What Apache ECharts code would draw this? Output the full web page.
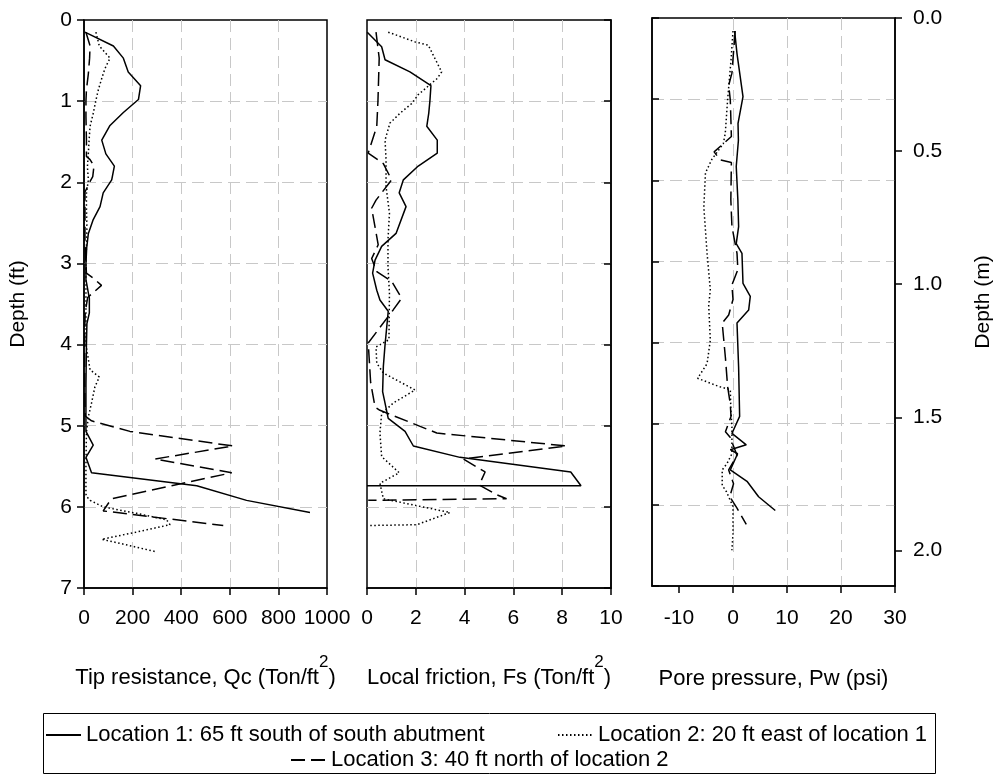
<!DOCTYPE html>
<html>
<head>
    <meta charset="utf-8">
    <title>CPT profiles</title>
    <script type="text/javascript" src="https://cdn.jsdelivr.net/npm/echarts@6/dist/echarts.min.js"></script>
    <style>html,body{margin:0;padding:0;background:#fff;}</style>
</head>
<body>
<div id="container" style="width:994px;height:775px"></div>
<script type="text/javascript">
    var names = ['Location 1: 65 ft south of south abutment',
                 'Location 2: 20 ft east of location 1',
                 'Location 3: 40 ft north of location 2'];

    // tip resistance Qc (Ton/ft2) vs depth (ft)
    var qcDepth1 = [0.15,0.32,0.47,0.64,0.81,0.98,1.14,1.30,1.48,1.65,1.80,1.97,2.13,2.30,2.46,2.63,2.81,3.0,3.2,3.43,3.61,3.74,4.0,4.5,4.85,5.07,5.24,5.39,5.58,5.74,5.92,6.07];
    var qcVal1   = [4,121,162,182,233,224,162,107,73,90,125,114,79,66,38,18,11,8,8,22,22,12,10,8,8,8,38,8,31,464,669,930];
    var qcDepth2 = [0.15,0.32,0.47,0.60,0.72,0.86,0.99,1.15,1.31,1.48,1.64,1.81,1.97,2.14,2.30,2.55,2.80,3.04,3.5,4.0,4.31,4.40,4.52,4.72,4.89,5.08,5.5,5.84,5.87,5.92,6.0,6.08,6.16,6.22,6.31,6.40,6.45,6.55];
    var qcVal2   = [49,63,107,86,73,59,49,38,25,21,18,14,18,10,10,12,10,8,8,8,25,63,45,31,18,10,8,8,10,25,79,217,340,354,217,73,148,292];
    var qcDepth3 = [0.15,0.32,0.47,0.66,0.86,1.0,1.19,1.48,1.68,1.72,1.80,1.93,1.99,2.12,2.3,2.75,3.0,3.12,3.18,3.27,3.42,3.6,3.8,4.5,4.88,4.94,5.07,5.25,5.41,5.58,5.90,6.05,6.23];
    var qcVal3   = [8,25,23,18,10,8,8,10,10,25,41,36,25,4,4,4,8,10,38,72,15,5,3,3,5,31,189,614,292,608,113,79,573];

    // local friction Fs (Ton/ft2) vs depth (ft)
    var fsDepth1 = [0.15,0.33,0.49,0.64,0.81,0.99,1.15,1.31,1.48,1.64,1.80,1.97,2.13,2.30,2.63,2.79,2.96,3.12,3.33,3.45,3.59,4.0,4.27,4.58,4.91,5.07,5.25,5.39,5.57,5.74,5.74];
    var fsVal1   = [0.01,0.60,0.74,1.76,2.62,2.58,2.53,2.45,2.88,2.88,2.10,1.49,1.32,1.60,1.19,0.60,0.33,0.23,0.40,0.53,0.87,0.74,0.67,0.64,0.87,1.56,1.90,3.81,8.35,8.77,0.0];
    var fsDepth2 = [0.15,0.27,0.31,0.64,0.72,0.92,1.03,1.15,1.27,1.48,1.72,2.05,2.38,2.71,3.04,3.36,3.94,4.03,4.23,4.35,4.56,4.72,4.85,5.09,5.38,5.58,5.71,5.90,6.07,6.22,6.23];
    var fsVal2   = [0.87,1.97,2.51,3.06,2.88,2.10,1.83,1.35,0.94,0.74,0.78,0.78,0.92,0.86,0.86,0.92,0.90,0.37,0.40,0.67,1.97,1.08,0.60,0.53,0.60,1.32,0.53,0.67,3.40,2.04,0.05];
    var fsDepth3 = [0.15,0.47,0.99,1.31,1.64,1.77,1.97,2.22,2.32,2.77,2.94,3.10,3.22,3.43,3.57,3.98,4.47,4.77,4.81,5.09,5.25,5.41,5.57,5.73,5.85,5.90,5.92];
    var fsVal3   = [0.37,0.50,0.45,0.40,0.05,0.67,1.01,0.37,0.19,0.46,0.19,0.40,1.01,1.42,1.08,0.05,0.15,0.33,0.53,2.86,8.18,3.95,4.84,4.60,5.31,5.72,0.05];

    // pore pressure Pw (psi) vs depth (ft)
    var pwDepth1 = [0.16,0.44,0.97,1.30,1.51,1.83,2.24,2.57,2.78,2.90,3.27,3.43,3.60,3.76,4.30,4.91,5.12,5.26,5.32,5.37,5.57,5.71,5.90,6.07];
    var pwVal1   = [0.3,0.74,1.85,0.93,1.0,0.6,0.9,1.04,0.6,1.66,1.85,3.2,2.9,0.74,1.04,1.23,-0.2,2.46,-0.5,0.85,-0.5,2.59,4.74,7.83];
    var pwDepth2 = [0.16,0.52,1.01,1.42,1.55,1.74,1.91,2.33,2.90,3.35,3.54,3.97,4.26,4.44,4.54,4.58,4.83,5.04,5.37,5.49,5.57,5.76,5.84,6.02,6.35,6.56];
    var pwVal2   = [0,-0.37,-1.0,-1.43,-1.8,-3.9,-5.1,-5.4,-4.8,-4.2,-4.5,-4.2,-4.8,-6.55,-2.67,-0.5,-0.4,-0.2,-0.2,-1.1,-2.0,-2.0,-1.2,0,0,-0.2];
    var pwDepth3 = [0.16,0.68,0.83,1.01,1.30,1.46,1.65,1.75,1.78,2.24,2.57,2.78,2.90,3.10,3.29,3.47,3.66,3.76,4.19,4.54,4.76,4.91,5.10,5.17,5.39,5.57,5.74,5.90,6.04,6.24];
    var pwVal3   = [0.4,-0.2,-0.8,-0.5,-0.37,-0.3,-3.5,-2.35,-0.3,-0.4,-0.2,0.4,0.74,0.9,-0.2,0,-0.8,-2.0,-1.4,-1.0,-0.5,-0.37,-1.4,-0.5,0.74,-0.8,0.1,-0.6,0.74,2.46];

    var pwTicks = [-10, 0, 10, 20, 30];
    var meterTicks = [0, 0.5, 1.0, 1.5, 2.0];

    var font = 'Liberation Sans, Arial, sans-serif';
    var lineTypes = ['solid', [1.5, 2.5], [14, 6]];
    var gridLine = {show: true, showMinLine: false, showMaxLine: false,
        lineStyle: {color: '#c8c8c8', width: 1, type: [12, 6]}};
    var blackLine = {show: true, onZero: false, lineStyle: {color: '#000', width: 1.5}};

    function pairs(vals, depths) {
        var out = [];
        for (var i = 0; i < vals.length; i++) out.push([vals[i], depths[i]]);
        return out;
    }

    var panels = [
        [[qcVal1, qcDepth1], [qcVal2, qcDepth2], [qcVal3, qcDepth3]],
        [[fsVal1, fsDepth1], [fsVal2, fsDepth2], [fsVal3, fsDepth3]],
        [[pwVal1, pwDepth1], [pwVal2, pwDepth2], [pwVal3, pwDepth3]]
    ];
    var series = [];
    for (var p = 0; p < 3; p++) {
        for (var l = 0; l < 3; l++) {
            series.push({
                type: 'line', name: names[l],
                xAxisIndex: p, yAxisIndex: p,
                data: pairs(panels[p][l][0], panels[p][l][1]),
                symbol: 'none', silent: true,
                lineStyle: {color: '#000', width: 1.5, type: lineTypes[l]},
                itemStyle: {color: '#000'},
                emphasis: {disabled: true}
            });
        }
    }

    // superscript 2 raised above the main text
    var nameRich = {
        m: {fontSize: 22, lineHeight: 34.5, verticalAlign: 'bottom', color: '#000', fontFamily: font},
        s: {fontSize: 17, lineHeight: 17, verticalAlign: 'top', color: '#000', fontFamily: font}
    };
    var labelStyle = {fontSize: 21, color: '#000', fontFamily: font};
    var tick = {show: true, length: 7, lineStyle: {color: '#000', width: 1.5}};

    function xAxis(grid, min, max, interval, name, gap, margin) {
        var ax = {
            type: 'value', gridIndex: grid, min: min, max: max, position: 'bottom',
            axisLine: blackLine,
            axisTick: tick,
            axisLabel: Object.assign({margin: margin, formatter: function (v) { return String(v); }}, labelStyle),
            splitLine: gridLine,
            name: name, nameLocation: 'middle', nameGap: gap
        };
        if (interval) ax.interval = interval;
        return ax;
    }

    var xAxes = [
        xAxis(0, 0, 1000, 200, '{m|Tip resistance, Qc (Ton/ft}{s|2}{m|)}', 66, 20),
        xAxis(1, 0, 10, 2, '{m|Local friction, Fs (Ton/ft}{s|2}{m|)}', 66, 20),
        xAxis(2, -15, 30, null, 'Pore pressure, Pw (psi)', 82, 22)
    ];
    xAxes[0].nameTextStyle = {rich: nameRich};
    xAxes[1].nameTextStyle = {rich: nameRich};
    xAxes[2].nameTextStyle = {fontSize: 22, color: '#000', fontFamily: font};
    xAxes[2].axisTick = Object.assign({customValues: pwTicks}, tick);
    xAxes[2].axisLabel = Object.assign({margin: 22, customValues: pwTicks}, labelStyle);

    var depthAxis = {type: 'value', min: 0, max: 7, interval: 1, inverse: true, splitLine: gridLine,
        axisLine: blackLine};

    var yAxes = [
        Object.assign({}, depthAxis, {gridIndex: 0, position: 'left',
            axisTick: tick, axisLabel: Object.assign({margin: 12}, labelStyle),
            name: 'Depth (ft)', nameLocation: 'middle', nameRotate: 90, nameGap: 55,
            nameTextStyle: {fontSize: 21, color: '#000', fontFamily: font}}),
        Object.assign({}, depthAxis, {gridIndex: 1, position: 'right',
            axisTick: Object.assign({inside: true}, tick), axisLabel: {show: false}}),
        Object.assign({}, depthAxis, {gridIndex: 2, position: 'left',
            axisTick: Object.assign({inside: true}, tick), axisLabel: {show: false}}),
        {type: 'value', gridIndex: 2, position: 'right', min: 0, max: 7 * 0.3048, inverse: true,
            axisLine: blackLine,
            axisTick: Object.assign({customValues: meterTicks}, tick),
            axisLabel: Object.assign({margin: 18, customValues: meterTicks,
                formatter: function (v) { return v.toFixed(1); }}, labelStyle),
            splitLine: {show: false},
            name: 'Depth (m)', nameLocation: 'middle', nameRotate: 90, nameGap: 78,
            nameTextStyle: {fontSize: 21, color: '#000', fontFamily: font}}
    ];

    function legend(i, pos, top) {
        return Object.assign({
            data: [names[i]], top: top, padding: 0,
            itemWidth: 35, itemHeight: 14, itemGap: 6,
            selectedMode: false,
            itemStyle: {opacity: 0},
            textStyle: {fontSize: 22, color: '#000', fontFamily: font}
        }, pos);
    }

    var dom = document.getElementById('container');
    var myChart = echarts.init(dom, null, {renderer: 'canvas'});
    var option = {
        animation: false,
        backgroundColor: '#fff',
        textStyle: {fontFamily: font},
        grid: [
            {left: 84, top: 20, width: 243, height: 568, show: true, borderColor: '#000', borderWidth: 1.5, outerBoundsMode: 'none'},
            {left: 367, top: 20, width: 244, height: 568, show: true, borderColor: '#000', borderWidth: 1.5, outerBoundsMode: 'none'},
            {left: 652, top: 18, width: 243, height: 568, show: true, borderColor: '#000', borderWidth: 1.5, outerBoundsMode: 'none'}
        ],
        xAxis: xAxes,
        yAxis: yAxes,
        legend: [
            legend(0, {left: 45}, 724),
            legend(1, {right: 67}, 724),
            legend(2, {left: 290}, 749)
        ],
        graphic: [{
            type: 'rect', silent: true,
            shape: {x: 43.5, y: 713.5, width: 892, height: 60},
            style: {fill: 'none', stroke: '#000', lineWidth: 1}
        }],
        series: series
    };
    myChart.setOption(option);
    window.addEventListener('resize', myChart.resize);
</script>
</body>
</html>
